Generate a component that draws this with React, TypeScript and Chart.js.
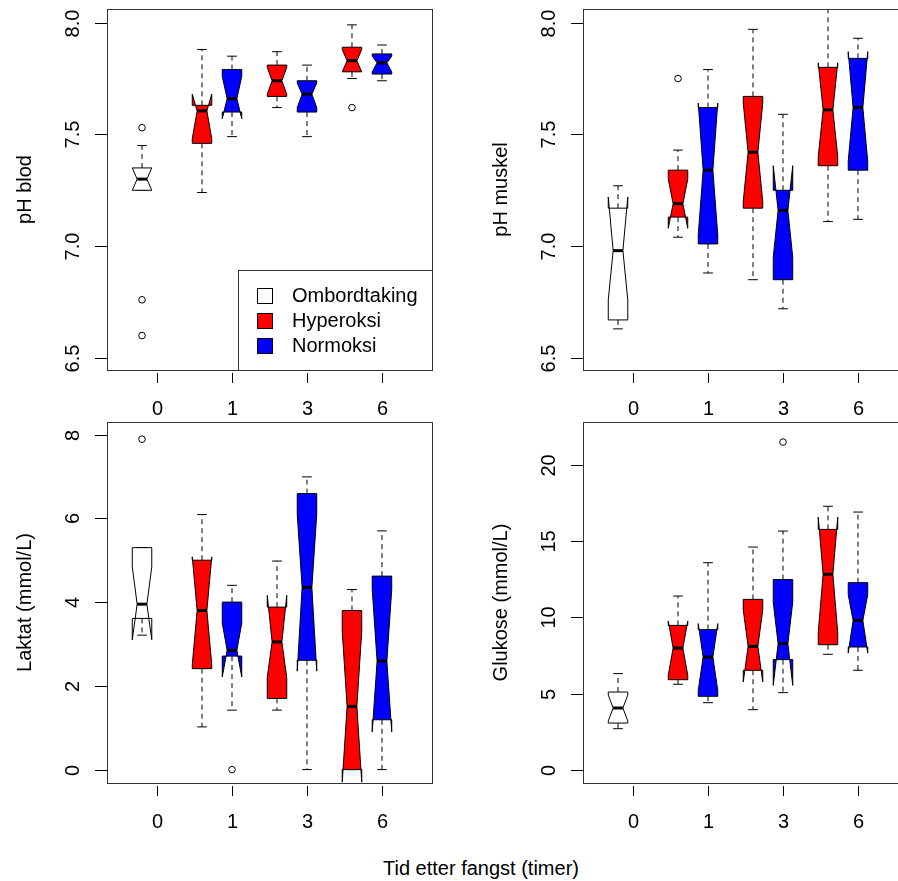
import React, { useEffect, useRef } from 'react';
import { Chart, registerables } from 'chart.js';

Chart.register(...registerables);

// box order: Ombordtaking 0, Hyperoksi 1, Normoksi 1, Hyperoksi 3, Normoksi 3, Hyperoksi 6, Normoksi 6
const boxPositions = [0.8, 1.6, 2.0, 2.6, 3.0, 3.6, 4.0];
const boxColors = ['#ffffff', '#ff0000', '#0000ff', '#ff0000', '#0000ff', '#ff0000', '#0000ff'];
const tickPositions = [1, 2, 3, 4];
const tickLabels = ['0', '1', '3', '6'];
const legendLabels = ['Ombordtaking', 'Hyperoksi', 'Normoksi'];
const legendColors = ['#ffffff', '#ff0000', '#0000ff'];

// pH blod
const phBlodLo = [7.25, 7.24, 7.49, 7.62, 7.49, 7.75, 7.74];
const phBlodQ1 = [7.25, 7.46, 7.6, 7.67, 7.6, 7.78, 7.77];
const phBlodMed = [7.3, 7.605, 7.66, 7.74, 7.68, 7.83, 7.82];
const phBlodQ3 = [7.35, 7.63, 7.79, 7.81, 7.74, 7.89, 7.86];
const phBlodHi = [7.45, 7.88, 7.85, 7.87, 7.81, 7.99, 7.9];
const phBlodNotchLo = [7.25, 7.48, 7.57, 7.68, 7.62, 7.78, 7.78];
const phBlodNotchHi = [7.35, 7.68, 7.76, 7.8, 7.73, 7.88, 7.85];
const phBlodOutliers = [[7.53, 6.76, 6.6], [], [], [], [], [7.62], []];
const phBlodTicks = [6.5, 7.0, 7.5, 8.0];
const phBlodTickLabels = ['6.5', '7.0', '7.5', '8.0'];

// pH muskel
const phMuskelLo = [6.63, 7.04, 6.88, 6.85, 6.72, 7.11, 7.12];
const phMuskelQ1 = [6.67, 7.13, 7.01, 7.17, 6.85, 7.36, 7.34];
const phMuskelMed = [6.98, 7.19, 7.34, 7.42, 7.16, 7.61, 7.62];
const phMuskelQ3 = [7.17, 7.34, 7.62, 7.67, 7.25, 7.8, 7.84];
const phMuskelHi = [7.27, 7.43, 7.79, 7.97, 7.59, 8.1, 7.93];
const phMuskelNotchLo = [6.76, 7.08, 7.05, 7.2, 6.95, 7.4, 7.38];
const phMuskelNotchHi = [7.22, 7.3, 7.64, 7.64, 7.36, 7.82, 7.87];
const phMuskelOutliers = [[], [7.75], [], [], [], [], []];
const phMuskelTicks = [6.5, 7.0, 7.5, 8.0];
const phMuskelTickLabels = ['6.5', '7.0', '7.5', '8.0'];

// Laktat
const laktatLo = [3.21, 1.02, 1.42, 1.42, 0, 0, 0];
const laktatQ1 = [3.61, 2.41, 2.71, 1.7, 2.61, 0, 1.19];
const laktatMed = [3.95, 3.8, 2.85, 3.05, 4.35, 1.51, 2.59];
const laktatQ3 = [5.3, 5.0, 4.0, 3.88, 6.59, 3.8, 4.62];
const laktatHi = [5.3, 6.09, 4.4, 4.98, 6.99, 4.3, 5.7];
const laktatNotchLo = [3.1, 2.5, 2.21, 2.2, 2.35, -0.3, 0.9];
const laktatNotchHi = [4.84, 5.08, 3.5, 4.16, 6.1, 3.3, 4.3];
const laktatOutliers = [[7.89], [], [0], [], [], [], []];
const laktatTicks = [0, 2, 4, 6, 8];
const laktatTickLabels = ['0', '2', '4', '6', '8'];

// Glukose
const glukoseLo = [2.69, 5.61, 4.4, 3.94, 5.06, 7.58, 6.53];
const glukoseQ1 = [3.06, 5.91, 4.82, 6.53, 7.23, 8.21, 8.06];
const glukoseMed = [4.05, 7.99, 7.4, 8.1, 8.28, 12.84, 9.81];
const glukoseQ3 = [5.1, 9.48, 9.2, 11.19, 12.49, 15.79, 12.29];
const glukoseHi = [6.31, 11.41, 13.6, 14.63, 15.68, 17.31, 16.93];
const glukoseNotchLo = [3.2, 6.2, 5.2, 5.76, 5.54, 9.0, 7.66];
const glukoseNotchHi = [4.9, 9.77, 9.6, 10.5, 11.0, 16.6, 11.5];
const glukoseOutliers = [[], [], [], [], [21.53], [], []];
const glukoseTicks = [0, 5, 10, 15, 20];
const glukoseTickLabels = ['0', '5', '10', '15', '20'];

const FONT = '20px "Liberation Sans", Arial, sans-serif';

interface PanelProps {
  left: number;
  top: number;
  width: number;
  yMin: number;
  yMax: number;
  yTicks: number[];
  yTickLabels: string[];
  yTitle: string;
  lo: number[];
  q1: number[];
  med: number[];
  q3: number[];
  hi: number[];
  notchLo: number[];
  notchHi: number[];
  outliers: number[][];
  legend?: boolean;
}

const boxPlugin = (p: PanelProps) => ({
  id: 'notchedBox',
  afterDraw(chart: Chart) {
    const ctx = chart.ctx;
    const area = chart.chartArea;
    const xs = chart.scales.x;
    const ys = chart.scales.y;
    const half = 0.13;
    ctx.save();
    ctx.font = FONT;
    ctx.fillStyle = '#000';
    ctx.strokeStyle = '#000';
    ctx.lineWidth = 1;

    // y axis
    ctx.textAlign = 'center';
    ctx.textBaseline = 'middle';
    p.yTicks.forEach((t, i) => {
      const y = Math.round(ys.getPixelForValue(t)) + 0.5;
      ctx.beginPath();
      ctx.moveTo(area.left - 12, y);
      ctx.lineTo(area.left, y);
      ctx.stroke();
      ctx.save();
      ctx.translate(area.left - 34, y);
      ctx.rotate(-Math.PI / 2);
      ctx.fillText(p.yTickLabels[i], 0, 0);
      ctx.restore();
    });
    ctx.save();
    ctx.translate(area.left - 82, (area.top + area.bottom) / 2);
    ctx.rotate(-Math.PI / 2);
    ctx.fillText(p.yTitle, 0, 0);
    ctx.restore();

    // x axis
    tickPositions.forEach((t, i) => {
      const x = Math.round(xs.getPixelForValue(t)) + 0.5;
      ctx.beginPath();
      ctx.moveTo(x, area.bottom + 3);
      ctx.lineTo(x, area.bottom + 13);
      ctx.stroke();
      ctx.fillText(tickLabels[i], x, area.bottom + 39);
    });

    // boxes
    ctx.save();
    ctx.beginPath();
    ctx.rect(area.left, area.top, area.right - area.left, area.bottom - area.top);
    ctx.clip();
    boxPositions.forEach((pos, i) => {
      const xl = xs.getPixelForValue(pos - half);
      const xr = xs.getPixelForValue(pos + half);
      const xc = xs.getPixelForValue(pos);
      const inset = (xr - xl) / 4;
      const cap = (xr - xl) / 4;
      const yq1 = ys.getPixelForValue(p.q1[i]);
      const yq3 = ys.getPixelForValue(p.q3[i]);
      const ym = ys.getPixelForValue(p.med[i]);
      const ynl = ys.getPixelForValue(p.notchLo[i]);
      const ynh = ys.getPixelForValue(p.notchHi[i]);
      const ylo = ys.getPixelForValue(p.lo[i]);
      const yhi = ys.getPixelForValue(p.hi[i]);

      // whiskers
      ctx.lineWidth = 1;
      ctx.setLineDash([5, 4]);
      ctx.beginPath();
      ctx.moveTo(xc, yq3);
      ctx.lineTo(xc, yhi);
      ctx.moveTo(xc, yq1);
      ctx.lineTo(xc, ylo);
      ctx.stroke();
      ctx.setLineDash([]);
      ctx.beginPath();
      ctx.moveTo(xc - cap, yhi);
      ctx.lineTo(xc + cap, yhi);
      ctx.moveTo(xc - cap, ylo);
      ctx.lineTo(xc + cap, ylo);
      ctx.stroke();

      // notched box
      ctx.beginPath();
      ctx.moveTo(xl, yq1);
      ctx.lineTo(xl, ynl);
      ctx.lineTo(xl + inset, ym);
      ctx.lineTo(xl, ynh);
      ctx.lineTo(xl, yq3);
      ctx.lineTo(xr, yq3);
      ctx.lineTo(xr, ynh);
      ctx.lineTo(xr - inset, ym);
      ctx.lineTo(xr, ynl);
      ctx.lineTo(xr, yq1);
      ctx.closePath();
      ctx.fillStyle = boxColors[i];
      ctx.fill();
      ctx.stroke();

      ctx.lineWidth = 3;
      ctx.beginPath();
      ctx.moveTo(xl + inset, ym);
      ctx.lineTo(xr - inset, ym);
      ctx.stroke();

      ctx.lineWidth = 1;
      p.outliers[i].forEach((v) => {
        ctx.beginPath();
        ctx.arc(xc, ys.getPixelForValue(v), 3.3, 0, Math.PI * 2);
        ctx.stroke();
      });
    });
    ctx.restore();

    // frame
    ctx.lineWidth = 1;
    ctx.strokeStyle = '#333';
    ctx.strokeRect(area.left + 0.5, area.top + 0.5, area.right - area.left, area.bottom - area.top);

    if (p.legend) {
      const lx = area.left + 131;
      const ly = area.bottom - 100;
      ctx.fillStyle = '#fff';
      ctx.fillRect(lx, ly, area.right - lx, area.bottom - ly);
      ctx.strokeRect(lx + 0.5, ly + 0.5, area.right - lx, area.bottom - ly);
      ctx.textAlign = 'left';
      legendLabels.forEach((lab, i) => {
        const cy = ly + 26 + i * 25;
        ctx.fillStyle = legendColors[i];
        ctx.fillRect(lx + 19.5, cy - 7.5, 15, 15);
        ctx.strokeStyle = '#000';
        ctx.strokeRect(lx + 19.5, cy - 7.5, 15, 15);
        ctx.fillStyle = '#000';
        ctx.fillText(lab, lx + 54, cy);
      });
    }
    ctx.restore();
  },
});

const Panel: React.FC<PanelProps> = (props) => {
  const canvasRef = useRef<HTMLCanvasElement>(null);
  const chartRef = useRef<Chart | null>(null);

  useEffect(() => {
    if (!canvasRef.current) return;
    if (chartRef.current) chartRef.current.destroy();
    chartRef.current = new Chart(canvasRef.current, {
      type: 'scatter',
      data: { datasets: [{ data: [] }] },
      options: {
        animation: false,
        responsive: false,
        devicePixelRatio: 1,
        layout: { padding: { left: props.width - 342, top: 9, right: 17, bottom: 45 } },
        plugins: { legend: { display: false }, tooltip: { enabled: false } },
        scales: {
          x: { type: 'linear', min: 0.333, max: 4.667, display: false },
          y: { type: 'linear', min: props.yMin, max: props.yMax, display: false },
        },
      },
      plugins: [boxPlugin(props)],
    });
    return () => {
      chartRef.current?.destroy();
      chartRef.current = null;
    };
  }, [props]);

  return (
    <div style={{ position: 'absolute', left: props.left, top: props.top }}>
      <canvas ref={canvasRef} width={props.width} height={415} />
    </div>
  );
};

const panels: PanelProps[] = [
  {
    left: 0, top: 0, width: 449, yMin: 6.446, yMax: 8.061, yTicks: phBlodTicks, yTickLabels: phBlodTickLabels, yTitle: 'pH blod',
    lo: phBlodLo, q1: phBlodQ1, med: phBlodMed, q3: phBlodQ3, hi: phBlodHi,
    notchLo: phBlodNotchLo, notchHi: phBlodNotchHi, outliers: phBlodOutliers, legend: true,
  },
  {
    left: 449, top: 0, width: 476, yMin: 6.446, yMax: 8.061, yTicks: phMuskelTicks, yTickLabels: phMuskelTickLabels, yTitle: 'pH muskel',
    lo: phMuskelLo, q1: phMuskelQ1, med: phMuskelMed, q3: phMuskelQ3, hi: phMuskelHi,
    notchLo: phMuskelNotchLo, notchHi: phMuskelNotchHi, outliers: phMuskelOutliers,
  },
  {
    left: 0, top: 413, width: 449, yMin: -0.32, yMax: 8.3, yTicks: laktatTicks, yTickLabels: laktatTickLabels, yTitle: 'Laktat (mmol/L)',
    lo: laktatLo, q1: laktatQ1, med: laktatMed, q3: laktatQ3, hi: laktatHi,
    notchLo: laktatNotchLo, notchHi: laktatNotchHi, outliers: laktatOutliers,
  },
  {
    left: 449, top: 413, width: 476, yMin: -0.88, yMax: 22.85, yTicks: glukoseTicks, yTickLabels: glukoseTickLabels, yTitle: 'Glukose (mmol/L)',
    lo: glukoseLo, q1: glukoseQ1, med: glukoseMed, q3: glukoseQ3, hi: glukoseHi,
    notchLo: glukoseNotchLo, notchHi: glukoseNotchHi, outliers: glukoseOutliers,
  },
];

export default function App() {
  return (
    <div style={{ position: 'absolute', left: 0, top: 0, width: 898, height: 881, overflow: 'hidden', background: '#fff' }}>
      {panels.map((p, i) => (
        <Panel key={i} {...p} />
      ))}
      <div
        style={{
          position: 'absolute', left: 0, width: 962, top: 857, textAlign: 'center',
          font: FONT, color: '#000',
        }}
      >
        Tid etter fangst (timer)
      </div>
    </div>
  );
}
